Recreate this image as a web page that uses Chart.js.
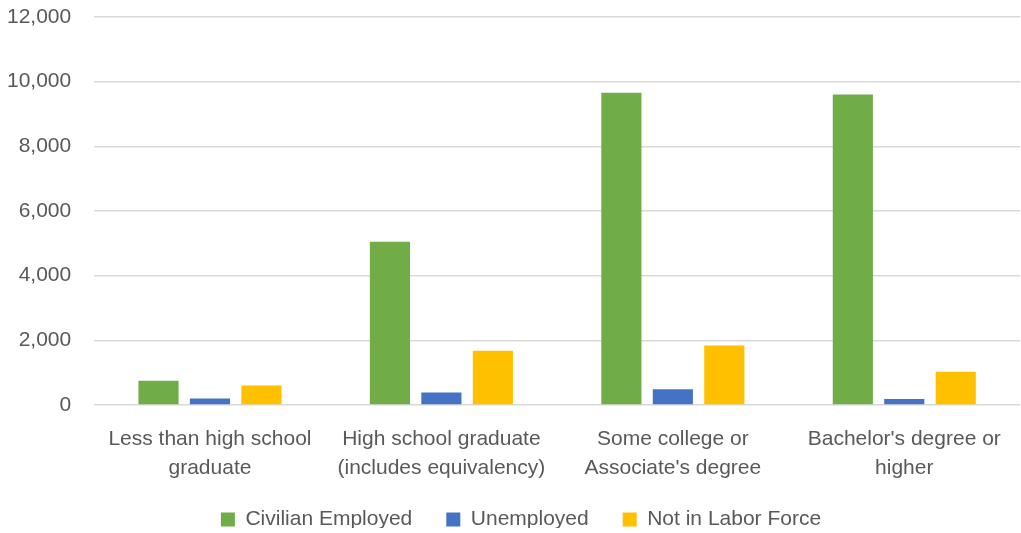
<!DOCTYPE html>
<html>
<head>
<meta charset="utf-8">
<script src="https://cdn.jsdelivr.net/npm/chart.js@4"></script>
<style>
  body { margin: 0; background: #fff; }
  #wrap { width: 1021px; height: 533px; position: relative; }
</style>
</head>
<body>
<div id="wrap"><canvas id="myChart"></canvas></div>
<script>
// categories (education level)
const categories = [
  ['Less than high school', 'graduate'],
  ['High school graduate', '(includes equivalency)'],
  ['Some college or', "Associate's degree"],
  ["Bachelor's degree or", 'higher'],
]
// series values
const employed = [750, 5050, 9660, 9600]
const unemployed = [200, 390, 490, 185]
const notInLabor = [600, 1680, 1840, 1030]
// y ticks
const yTicks = [0, 2000, 4000, 6000, 8000, 10000, 12000]

const textColor = '#595959'
const fontFamily = "'Liberation Sans', Arial, sans-serif"

// legend の高さと位置を調整
const legendTweak = {
  id: 'legendTweak',
  beforeInit(chart) {
    const legend = chart.legend
    const fit = legend.fit
    legend.fit = function () {
      fit.bind(legend)()
      this.height = 53
    }
    const draw = legend.draw
    legend.draw = function () {
      const c = chart.ctx
      c.save()
      c.translate(19, -5)
      draw.bind(legend)()
      c.restore()
    }
  },
}

const ctx = document.getElementById('myChart').getContext('2d')
const myChart = new Chart(ctx, {
  type: 'bar',
  data: {
    labels: categories,
    datasets: [
      { label: 'Civilian Employed', data: employed, backgroundColor: '#70AD47' },
      { label: 'Unemployed', data: unemployed, backgroundColor: '#4472C4' },
      { label: 'Not in Labor Force', data: notInLabor, backgroundColor: '#FFC000' },
    ],
  },
  plugins: [legendTweak],
  options: {
    responsive: true,
    maintainAspectRatio: false,
    animation: false,
    layout: { padding: { top: 0, right: 1, left: -16, bottom: 0 } },
    datasets: {
      bar: { categoryPercentage: 0.667, barPercentage: 0.78 },
    },
    plugins: {
      legend: {
        position: 'bottom',
        labels: {
          color: textColor,
          font: { family: fontFamily, size: 21 },
          boxWidth: 14,
          boxHeight: 14,
          padding: 34,
        },
      },
      tooltip: { enabled: false },
    },
    scales: {
      x: {
        grid: { display: false },
        border: { display: false },
        afterFit: (axis) => { axis.height = 75 },
        ticks: {
          color: textColor,
          font: { family: fontFamily, size: 21, lineHeight: 1.38 },
          maxRotation: 0,
          autoSkip: false,
          padding: 12,
        },
      },
      y: {
        min: 0,
        max: 12000,
        afterBuildTicks: (axis) => { axis.ticks = yTicks.map((v) => ({ value: v })) },
        afterFit: (axis) => {
          axis.paddingTop = 17
          axis.paddingBottom = 12
        },
        grid: { color: '#D9D9D9', lineWidth: 1.5, drawTicks: false },
        border: { display: false },
        ticks: {
          color: textColor,
          font: { family: fontFamily, size: 21 },
          padding: 23,
          callback: (v) => v.toLocaleString('en-US'),
        },
      },
    },
  },
})
</script>
</body>
</html>
